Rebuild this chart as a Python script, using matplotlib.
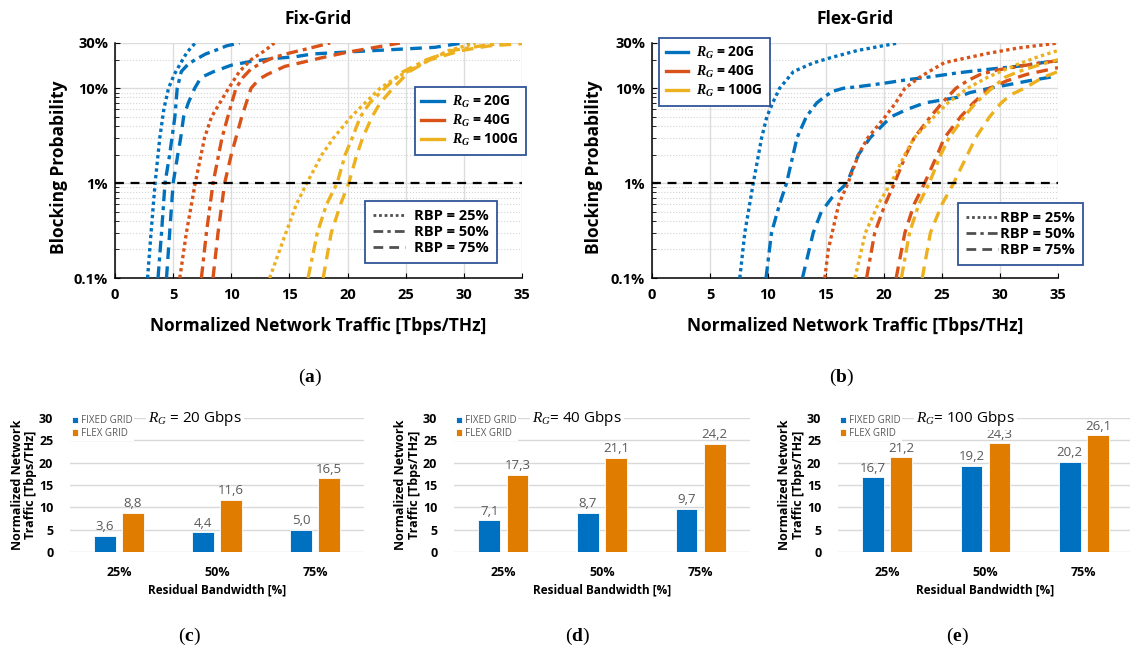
import matplotlib
matplotlib.use("Agg")
import matplotlib.pyplot as plt
from matplotlib.lines import Line2D
from matplotlib.ticker import LogLocator, NullFormatter, FixedLocator, FixedFormatter

plt.rcParams['font.family'] = ['Open Sans', 'DejaVu Sans']
plt.rcParams['mathtext.fontset'] = 'custom'
plt.rcParams['mathtext.it'] = 'Liberation Serif:italic'
plt.rcParams['mathtext.bf'] = 'Liberation Serif:bold:italic'
plt.rcParams['mathtext.rm'] = 'Liberation Serif:bold'

BLUE = '#0072BD'
RED = '#D95319'
YELLOW = '#EDB120'
BAR_BLUE = '#0070C0'
BAR_ORANGE = '#E07C00'
FRAME = '#2F5597'

# ---- blocking probability curves: (traffic, blocking %) ----
fix_20g_rbp25 = [(2.8, 0.1), (3.1, 0.3), (3.45, 1), (3.85, 3), (4.2, 6), (4.6, 10),
                 (5.1, 14), (5.6, 18), (6.2, 24), (6.9, 30)]
fix_20g_rbp50 = [(3.7, 0.1), (4.0, 0.3), (4.3, 1), (4.7, 2), (4.9, 3), (5.15, 5), (5.35, 10),
                 (5.7, 15), (6.3, 18), (6.9, 20), (7.8, 23), (8.6, 25), (9.6, 28), (10.7, 30)]
fix_20g_rbp75 = [(4.43, 0.1), (4.7, 0.3), (5.0, 1), (5.4, 2), (5.65, 3), (5.9, 5), (6.3, 7),
                 (6.85, 10), (7.4, 13), (8.5, 15), (10, 17.5), (11.5, 19), (13.5, 20.5),
                 (15.5, 21.5), (17, 23), (21, 24.5), (25, 26), (27.5, 27), (29.5, 29.5), (30.5, 30)]
fix_40g_rbp25 = [(5.57, 0.1), (6.14, 0.3), (6.9, 1), (7.7, 3), (8.3, 5), (9.77, 10),
                 (10.7, 15), (11.7, 20), (12.9, 25), (13.7, 30)]
fix_40g_rbp50 = [(7.43, 0.1), (7.86, 0.3), (8.43, 1), (9.2, 3), (9.7, 5), (10.4, 10), (11.0, 13),
                 (11.7, 16), (12.6, 18.5), (13.6, 21), (15, 23.5), (16.5, 26), (18.5, 30)]
fix_40g_rbp75 = [(8.43, 0.1), (8.86, 0.3), (9.43, 1), (10.0, 2), (10.4, 3), (10.9, 5), (11.7, 10),
                 (12.4, 12.5), (13.1, 14), (14.6, 17), (15.9, 18.5), (17.8, 21), (20, 24),
                 (22.4, 27), (24.5, 30)]
fix_100g_rbp25 = [(13.3, 0.1), (14.7, 0.3), (15.6, 0.6), (16.5, 1), (17.8, 2), (18.8, 3),
                  (20.3, 5), (21.5, 7), (22.8, 10), (24.2, 13), (26, 17), (27.4, 21),
                  (28.7, 25), (31, 30)]
fix_100g_rbp50 = [(16.6, 0.1), (17.4, 0.3), (18.2, 0.6), (19.1, 1), (19.8, 2), (20.4, 3),
                  (21.1, 5), (21.9, 7), (23.2, 10), (24.8, 15), (26.8, 20), (29, 25),
                  (31.5, 28), (33.4, 30)]
fix_100g_rbp75 = [(17.9, 0.1), (18.6, 0.3), (19.4, 0.6), (20.1, 1), (20.8, 2), (21.3, 3),
                  (22.1, 5), (22.8, 7), (23.9, 10), (25.3, 15), (27.1, 20), (29.8, 25),
                  (32.2, 28), (35, 29.5)]

flex_20g_rbp25 = [(7.57, 0.1), (8.0, 0.3), (8.73, 1), (9.45, 3), (9.9, 5), (10.4, 7), (11.0, 10),
                  (12.2, 15), (13.9, 18.5), (15.4, 21), (17.7, 25), (21.2, 30)]
flex_20g_rbp50 = [(9.83, 0.1), (10.3, 0.3), (11.0, 0.6), (11.6, 1), (12.5, 3), (13.3, 5),
                  (14.2, 7), (14.9, 8.2), (15.6, 9.3), (16.5, 10), (17.8, 10.4), (20, 11.3),
                  (22, 12.3), (24, 13.2), (26.3, 14.5), (28.5, 15.6), (31.6, 17.1),
                  (33.5, 18.5), (35, 19.5)]
flex_20g_rbp75 = [(12.97, 0.1), (13.9, 0.3), (14.6, 0.5), (15.5, 0.7), (16.8, 1), (17.8, 2),
                  (18.8, 3), (20.6, 5), (22, 6), (23.5, 7), (26.3, 8), (27.4, 9), (29.1, 10),
                  (30.9, 11), (32.5, 12), (35, 13.5)]
flex_40g_rbp25 = [(14.9, 0.1), (15.2, 0.2), (16.1, 0.6), (16.9, 1), (17.8, 2), (18.6, 3),
                  (20.1, 5), (21.0, 7), (21.8, 10), (23.2, 13.4), (25.2, 18.6), (27.2, 21),
                  (29.1, 23.5), (31.6, 26.6), (35, 30)]
flex_40g_rbp50 = [(18.5, 0.1), (19.2, 0.3), (20.1, 0.6), (20.9, 1), (21.9, 2), (22.6, 3),
                  (24.0, 5), (25, 7), (26.2, 10), (27.2, 12), (28.3, 14), (29.7, 15.5),
                  (31.6, 17), (33.5, 18.5), (35, 19.5)]
flex_40g_rbp75 = [(21.05, 0.1), (21.8, 0.3), (22.6, 0.6), (23.5, 1), (24.6, 2), (25.2, 3),
                  (26.6, 5), (27.7, 7), (29.1, 10), (30.6, 12), (32.3, 14), (35, 16.5)]
flex_100g_rbp25 = [(17.5, 0.1), (18.4, 0.3), (19.5, 0.6), (20.6, 1), (21.8, 2), (22.6, 3),
                   (24.3, 5), (25.5, 7), (27.2, 10), (28.9, 13), (30.3, 15.5), (31.6, 18),
                   (33.3, 21.5), (35, 25)]
flex_100g_rbp50 = [(21.5, 0.1), (22.2, 0.3), (23.0, 0.6), (23.9, 1), (24.9, 2), (25.6, 3),
                   (26.9, 5), (27.9, 7), (29.3, 10), (30.4, 13), (31.6, 15), (33.3, 17.5),
                   (35, 20)]
flex_100g_rbp75 = [(23.3, 0.1), (24.0, 0.3), (25.0, 0.6), (26.0, 1), (27.2, 2), (27.9, 3),
                   (29.1, 5), (30.1, 7), (30.9, 8.5), (32.1, 10), (33.7, 13), (35, 15)]

# ---- bar charts: traffic at 1% blocking ----
rbp_labels = ['25%', '50%', '75%']
fixed_20g = [3.6, 4.4, 5.0]
flex_20g = [8.8, 11.6, 16.5]
fixed_40g = [7.1, 8.7, 9.7]
flex_40g = [17.3, 21.1, 24.2]
fixed_100g = [16.7, 19.2, 20.2]
flex_100g = [21.2, 24.3, 26.1]

DOT = (0, (1, 1))
DASHDOT = (0, (3.5, 1.5, 1.2, 1.5))
DASH = (0, (3.5, 2.2))

fig = plt.figure(figsize=(11.3, 6.51), dpi=100)


def line_panel(rect, title, curves):
    ax = fig.add_axes(rect)
    for pts, color, ls in curves:
        xs = [p[0] for p in pts]
        ys = [p[1] for p in pts]
        ax.plot(xs, ys, color=color, linestyle=ls, lw=2.4, zorder=3)
    ax.axhline(1, color='black', linestyle=(0, (4, 3)), lw=1.6, zorder=4)
    ax.set_yscale('log')
    ax.set_xlim(0, 35)
    ax.set_ylim(0.1, 30)
    ax.yaxis.set_major_locator(FixedLocator([0.1, 1, 10, 30]))
    ax.yaxis.set_major_formatter(FixedFormatter(['0.1%', '1%', '10%', '30%']))
    ax.yaxis.set_minor_locator(LogLocator(subs=range(2, 10)))
    ax.yaxis.set_minor_formatter(NullFormatter())
    ax.set_xticks(range(0, 36, 5))
    ax.grid(which='major', color='#dcdcdc', lw=1.0, zorder=0)
    ax.grid(which='minor', axis='y', color='#d4d4d4', lw=0.8, linestyle=':', zorder=0)
    for s in ['top', 'right']:
        ax.spines[s].set_visible(False)
    for s in ['left', 'bottom']:
        ax.spines[s].set_linewidth(1.1)
    ax.tick_params(which='both', direction='in', labelsize=10.5)
    ax.tick_params(axis='x', pad=7)
    ax.tick_params(axis='y', pad=5)
    ax.tick_params(which='minor', length=3)
    for lab in ax.get_xticklabels() + ax.get_yticklabels():
        lab.set_fontweight('bold')
    ax.set_title(title, fontsize=12.5, fontweight='bold', pad=14)
    ax.set_ylabel('Blocking Probability', fontsize=12.5, fontweight='bold')
    ax.set_xlabel('Normalized Network Traffic [Tbps/THz]', fontsize=12.5, fontweight='bold')
    ax.xaxis.set_label_coords(0.5, -0.165)
    return ax


def add_legends(ax, color_anchor, rbp_anchor, rbp_textpad):
    h1 = [Line2D([], [], color=c, lw=2.4) for c in [BLUE, RED, YELLOW]]
    l1 = [r'$\mathbf{R_G}$ = 20G', r'$\mathbf{R_G}$ = 40G', r'$\mathbf{R_G}$ = 100G']
    leg1 = ax.legend(h1, l1, loc='upper left', bbox_to_anchor=color_anchor, borderaxespad=0,
                     fancybox=False, framealpha=1, edgecolor=FRAME, handlelength=1.6,
                     labelspacing=0.2, borderpad=0.5, handletextpad=0.6,
                     prop={'weight': 'bold', 'size': 10})
    leg1.get_frame().set_linewidth(1.3)
    leg1.set_zorder(10)
    ax.add_artist(leg1)
    h2 = [Line2D([], [], color='#505050', lw=2, linestyle=ls) for ls in [DOT, DASHDOT, DASH]]
    l2 = ['RBP = 25%', 'RBP = 50%', 'RBP = 75%']
    leg2 = ax.legend(h2, l2, loc='upper left', bbox_to_anchor=rbp_anchor, borderaxespad=0,
                     fancybox=False, framealpha=1, edgecolor=FRAME, handlelength=2.2,
                     labelspacing=0.15, borderpad=0.55, handletextpad=rbp_textpad,
                     prop={'weight': 'bold', 'size': 10.5})
    leg2.get_frame().set_linewidth(1.3)
    leg2.set_zorder(10)


ax_fix = line_panel([115 / 1130, 373 / 651, 407 / 1130, 235 / 651], 'Fix-Grid', [
    (fix_20g_rbp25, BLUE, DOT), (fix_20g_rbp50, BLUE, DASHDOT), (fix_20g_rbp75, BLUE, DASH),
    (fix_40g_rbp25, RED, DOT), (fix_40g_rbp50, RED, DASHDOT), (fix_40g_rbp75, RED, DASH),
    (fix_100g_rbp25, YELLOW, DOT), (fix_100g_rbp50, YELLOW, DASHDOT), (fix_100g_rbp75, YELLOW, DASH),
])
ax_fix.yaxis.set_label_coords(-0.115, 0.47)
add_legends(ax_fix, (0.736, 0.813), (0.615, 0.328), 0.6)

ax_flex = line_panel([652 / 1130, 373 / 651, 406 / 1130, 235 / 651], 'Flex-Grid', [
    (flex_20g_rbp25, BLUE, DOT), (flex_20g_rbp50, BLUE, DASHDOT), (flex_20g_rbp75, BLUE, DASH),
    (flex_40g_rbp25, RED, DOT), (flex_40g_rbp50, RED, DASHDOT), (flex_40g_rbp75, RED, DASH),
    (flex_100g_rbp25, YELLOW, DOT), (flex_100g_rbp50, YELLOW, DASHDOT), (flex_100g_rbp75, YELLOW, DASH),
])
ax_flex.yaxis.set_label_coords(-0.12, 0.47)
add_legends(ax_flex, (0.017, 1.021), (0.754, 0.319), 0.15)


def bar_panel(left, width, fixed_vals, flex_vals, rg_text):
    ax = fig.add_axes([left / 1130, 99 / 651, width / 1130, 134 / 651])
    pos = list(range(len(rbp_labels)))
    b1 = ax.bar([p - 0.143 for p in pos], fixed_vals, width=0.22, color=BAR_BLUE,
                edgecolor='white', lw=0.6, label='FIXED GRID', zorder=3)
    b2 = ax.bar([p + 0.143 for p in pos], flex_vals, width=0.22, color=BAR_ORANGE,
                edgecolor='white', lw=0.6, label='FLEX GRID', zorder=3)
    for bars, vals in [(b1, fixed_vals), (b2, flex_vals)]:
        ax.bar_label(bars, labels=[f'{v:.1f}'.replace('.', ',') for v in vals], padding=2,
                     fontsize=9.5, color='#595959')
    ax.set_xlim(-0.5, 2.5)
    ax.set_ylim(0, 30)
    ax.set_yticks(range(0, 31, 5))
    ax.set_xticks(pos)
    ax.set_xticklabels(rbp_labels)
    ax.grid(axis='y', color='#d9d9d9', lw=1.0, zorder=0)
    for s in ax.spines.values():
        s.set_visible(False)
    ax.tick_params(length=0, labelsize=9)
    ax.tick_params(axis='x', pad=10)
    ax.tick_params(axis='y', pad=12)
    for lab in ax.get_xticklabels() + ax.get_yticklabels():
        lab.set_fontweight('bold')
    ax.set_ylabel('Normalized Network\nTraffic [Tbps/THz]', fontsize=9, fontweight='bold',
                  linespacing=1.05)
    ax.yaxis.set_label_coords(-0.112, 0.5)
    ax.set_xlabel('Residual Bandwidth [%]', fontsize=8.5, fontweight='bold')
    ax.xaxis.set_label_coords(0.5, -0.235)
    leg = ax.legend(loc='upper left', bbox_to_anchor=(0.0, 1.035), fontsize=7, frameon=True,
                    fancybox=False, edgecolor='none', framealpha=1, handlelength=0.65,
                    handleheight=0.65, handletextpad=0.25, labelspacing=0.15, borderpad=0.2,
                    borderaxespad=0)
    for t in leg.get_texts():
        t.set_color('#595959')
    ax.text(0.265, 1.0, rg_text, transform=ax.transAxes, fontsize=11, ha='left', va='center',
            bbox=dict(facecolor='white', edgecolor='none', pad=1.5), zorder=5)
    return ax


bar_panel(70, 294, fixed_20g, flex_20g, r'$R_G$ = 20 Gbps')
bar_panel(454, 296, fixed_40g, flex_40g, r'$R_G$= 40 Gbps')
bar_panel(838, 295, fixed_100g, flex_100g, r'$R_G$= 100 Gbps')

# panel captions
for x, y, c in [(310, 377, 'a'), (842, 377, 'b'), (189, 636, 'c'), (578, 636, 'd'), (957, 636, 'e')]:
    fig.text(x / 1130, 1 - y / 651, '($\\mathrm{' + c + '}$)', family='Liberation Serif',
             fontsize=14, ha='center', va='center')

fig.savefig('out.png', dpi=100, facecolor='white')
